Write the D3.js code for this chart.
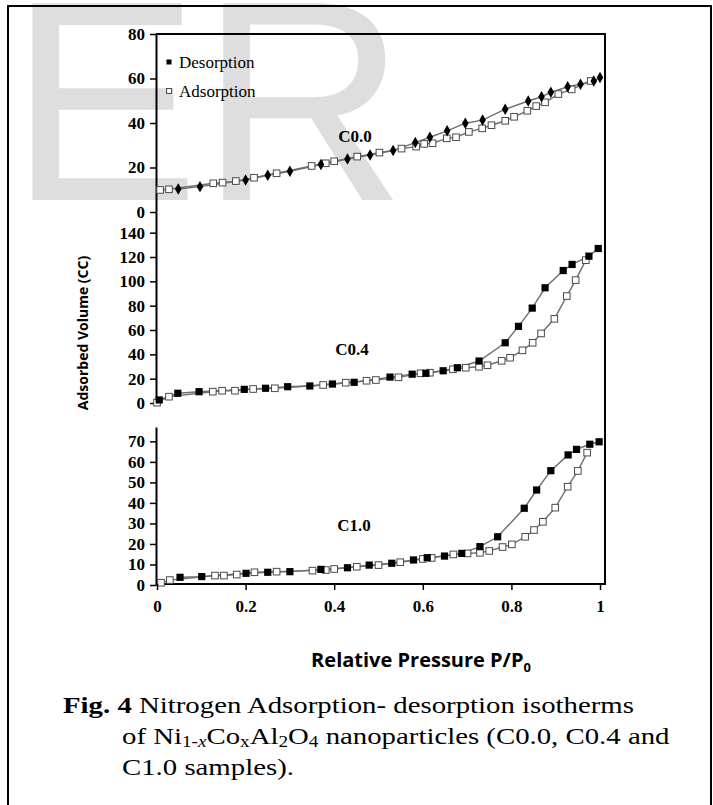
<!DOCTYPE html>
<html><head><meta charset="utf-8">
<script src="https://cdn.jsdelivr.net/npm/d3@7"></script>
<style>
html,body{margin:0;padding:0;background:#fff;}
svg{display:block;}
</style></head>
<body>
<script>
// ---------- DATA ----------
const samples = ["C0.0", "C0.4", "C1.0"];
const xTicks = [0, 0.2, 0.4, 0.6, 0.8, 1];
const yTicksC00 = [0, 20, 40, 60, 80];
const yTicksC04 = [0, 20, 40, 60, 80, 100, 120, 140];
const yTicksC10 = [0, 10, 20, 30, 40, 50, 60, 70];

// C0.0
const c00AdsX = [0.007,0.027,0.127,0.148,0.178,0.219,0.27,0.349,0.381,0.40,0.452,0.502,0.552,0.585,0.603,0.622,0.654,0.675,0.704,0.734,0.755,0.786,0.806,0.836,0.856,0.876,0.906,0.936,0.979];
const c00AdsY = [9.9,10.2,12.9,13.2,13.9,15.4,17.4,20.7,21.9,22.8,24.9,26.7,28.5,29.4,30.6,30.9,33.1,33.6,36.0,37.6,39.0,41.0,42.8,45.5,47.6,49.3,53.0,55.1,58.9];
const c00DesX = [0.048,0.097,0.2,0.25,0.3,0.37,0.43,0.481,0.533,0.583,0.616,0.655,0.696,0.735,0.786,0.838,0.868,0.889,0.927,0.956,0.986,1.0];
const c00DesY = [10.3,11.4,14.4,16.5,18.3,21.3,23.8,25.6,27.6,31.2,33.6,36.5,39.9,41.3,46.2,49.9,51.8,53.8,56.3,57.4,58.9,60.4];

// C0.4
const c04AdsX = [0.0,0.027,0.126,0.147,0.176,0.217,0.266,0.375,0.426,0.473,0.494,0.545,0.595,0.616,0.668,0.697,0.727,0.746,0.778,0.797,0.825,0.848,0.867,0.897,0.925,0.945,0.968];
const c04AdsY = [0.3,5.2,9.3,10.1,10.1,11.5,12.1,14.8,16.7,18.3,18.9,21.1,24.4,24.9,27.7,29.0,29.8,31.0,34.7,37.2,43.3,49.5,57.2,69.2,87.9,101.0,117.4];
const c04DesX = [0.005,0.047,0.095,0.197,0.245,0.295,0.345,0.396,0.445,0.526,0.576,0.607,0.646,0.678,0.727,0.786,0.816,0.847,0.876,0.917,0.937,0.975,0.996];
const c04DesY = [2.5,8.0,9.3,11.2,12.1,13.4,14.0,15.6,17.0,21.3,23.7,24.4,26.5,29.0,34.5,49.5,63.0,78.0,94.7,108.9,113.9,120.7,127.0];

// C1.0
const c10AdsX = [0.009,0.029,0.131,0.151,0.18,0.22,0.27,0.351,0.381,0.40,0.451,0.50,0.549,0.60,0.62,0.669,0.701,0.729,0.75,0.78,0.801,0.831,0.851,0.871,0.899,0.927,0.95,0.971];
const c10AdsY = [1.1,2.4,4.6,4.6,5.1,6.2,6.5,7.0,7.3,7.8,8.9,9.7,11.1,12.7,13.2,14.9,15.4,15.7,16.6,18.5,19.8,23.5,26.8,30.8,37.7,47.9,55.6,64.5];
const c10DesX = [0.052,0.101,0.201,0.25,0.3,0.37,0.43,0.479,0.53,0.579,0.61,0.649,0.688,0.729,0.769,0.829,0.857,0.889,0.928,0.947,0.977,0.998];
const c10DesY = [3.75,4.1,5.7,6.2,6.5,7.6,8.4,9.7,10.6,12.2,13.3,14.1,15.4,18.7,23.5,37.4,46.3,55.7,63.4,66.1,68.6,69.8];

const legendLabels = ["Desorption", "Adsorption"];

// ---------- DRAW ----------
const W = 713, H = 805;
const svg = d3.select("body").append("svg").attr("width", W).attr("height", H);

// watermark
svg.append("text").attr("x", 9).attr("y", 200)
  .attr("font-family", "Liberation Sans, Arial, sans-serif")
  .attr("font-size", 286).attr("fill", "#dedede").text("ER");

// outer frame
svg.append("rect").attr("x", 8).attr("y", 6).attr("width", 703).attr("height", 820)
  .attr("fill", "none").attr("stroke", "#000").attr("stroke-width", 2);

const x = d3.scaleLinear().domain([0, 1]).range([157, 600]);
const boxL = 156, boxR = 605, boxT = 34, boxB = 584;

const panels = [
  {name: samples[0], y: d3.scaleLinear().domain([0, 80]).range([212, 34]), ticks: yTicksC00,
   ads: [c00AdsX, c00AdsY], des: [c00DesX, c00DesY], diamond: true, label: [355, 136]},
  {name: samples[1], y: d3.scaleLinear().domain([0, 157]).range([403, 212]), ticks: yTicksC04,
   ads: [c04AdsX, c04AdsY], des: [c04DesX, c04DesY], diamond: false, label: [352, 349]},
  {name: samples[2], y: d3.scaleLinear().domain([0, 77]).range([585, 427]), ticks: yTicksC10,
   ads: [c10AdsX, c10AdsY], des: [c10DesX, c10DesY], diamond: false, label: [354, 525]}
];

const tickFont = "Liberation Serif, Times New Roman, serif";

// box lines (top, right, bottom)
svg.append("path")
  .attr("d", `M${boxL},${boxT}H${boxR}V${boxB}H${boxL}`)
  .attr("fill", "none").attr("stroke", "#000").attr("stroke-width", 2);

panels.forEach(p => {
  const ax = svg.append("g").attr("transform", `translate(${boxL},0)`)
    .call(d3.axisLeft(p.y).tickValues(p.ticks).tickSize(6).tickSizeOuter(0).tickPadding(5).tickFormat(d3.format("d")));
  ax.select(".domain").attr("stroke-width", 2);
  ax.selectAll(".tick line").attr("stroke-width", 1.5);
  ax.selectAll("text").attr("font-family", tickFont).attr("font-weight", "bold").attr("font-size", 17).attr("fill", "#000");

  const line = d3.line().x(d => x(d[0])).y(d => p.y(d[1]));
  const ads = p.ads[0].map((v, i) => [v, p.ads[1][i]]);
  const des = p.des[0].map((v, i) => [v, p.des[1][i]]);

  svg.append("path").datum(ads).attr("d", line).attr("fill", "none").attr("stroke", "#6e6e6e").attr("stroke-width", 1.4);
  svg.append("path").datum(des).attr("d", line).attr("fill", "none").attr("stroke", "#6e6e6e").attr("stroke-width", 1.4);

  svg.append("g").selectAll("rect").data(ads).join("rect")
    .attr("x", d => x(d[0]) - 3.3).attr("y", d => p.y(d[1]) - 3.3)
    .attr("width", 6.6).attr("height", 6.6)
    .attr("fill", "#fff").attr("stroke", "#4a4a4a").attr("stroke-width", 1);

  if (p.diamond) {
    svg.append("g").selectAll("path").data(des).join("path")
      .attr("transform", d => `translate(${x(d[0])},${p.y(d[1])})`)
      .attr("d", d3.symbol().type(d3.symbolDiamond).size(38))
      .attr("fill", "#000");
  } else {
    svg.append("g").selectAll("rect").data(des).join("rect")
      .attr("x", d => x(d[0]) - 3.6).attr("y", d => p.y(d[1]) - 3.6)
      .attr("width", 7.2).attr("height", 7.2).attr("fill", "#000");
  }

  svg.append("text").attr("x", p.label[0]).attr("y", p.label[1] + 6)
    .attr("text-anchor", "middle").attr("font-family", tickFont).attr("font-weight", "bold")
    .attr("font-size", 17).text(p.name);
});

// x axis
const xa = svg.append("g").attr("transform", `translate(0,${boxB})`)
  .call(d3.axisBottom(x).tickValues(xTicks).tickSize(6).tickSizeOuter(0).tickPadding(10)
    .tickFormat(d => d === 0 ? "0" : d === 1 ? "1" : d3.format(".1f")(d)));
xa.select(".domain").remove();
xa.selectAll(".tick line").attr("stroke-width", 1.5);
xa.selectAll("text").attr("font-family", tickFont).attr("font-weight", "bold").attr("font-size", 17).attr("fill", "#000");

// legend
const leg = svg.append("g");
legendLabels.forEach((lab, i) => {
  const ly = 62 + i * 29;
  leg.append("rect").attr("x", 166.5).attr("y", ly - 2.5).attr("width", 5).attr("height", 5)
    .attr("fill", i === 0 ? "#000" : "#fff").attr("stroke", i === 0 ? "none" : "#4a4a4a").attr("stroke-width", 1);
  leg.append("text").attr("x", 179).attr("y", ly + 6).attr("font-family", tickFont)
    .attr("font-size", 17).attr("fill", "#000").text(lab);
});

// axis titles
svg.append("text").attr("transform", "translate(88,333) rotate(-90)")
  .attr("text-anchor", "middle").attr("font-family", "Open Sans, sans-serif").attr("font-weight", "bold")
  .attr("font-size", 14).text("Adsorbed Volume (CC)");

const xt = svg.append("text").attr("x", 421).attr("y", 667)
  .attr("text-anchor", "middle").attr("font-family", "Open Sans, sans-serif").attr("font-weight", "bold")
  .attr("font-size", 20);
xt.append("tspan").text("Relative Pressure P/P");
xt.append("tspan").attr("dy", 5).attr("font-size", 13).text("0");

// caption (serif, horizontally widened to mimic the book face of the original)
const capFont = "Liberation Serif, Times New Roman, serif";
const capSize = 24, capStretch = 1.2;
const c1 = svg.append("text").attr("transform", `translate(63,713) scale(${capStretch},1)`)
  .attr("font-family", capFont).attr("font-size", capSize);
c1.append("tspan").attr("font-weight", "bold").text("Fig. 4");
c1.append("tspan").text(" Nitrogen Adsorption- desorption isotherms");

const c2 = svg.append("text").attr("transform", `translate(122,744) scale(${capStretch},1)`)
  .attr("font-family", capFont).attr("font-size", capSize);
c2.append("tspan").text("of Ni");
c2.append("tspan").attr("font-size", 16).attr("dy", 3).text("1-");
c2.append("tspan").attr("font-size", 16).attr("font-style", "italic").text("x");
c2.append("tspan").attr("dy", -3).text("Co");
c2.append("tspan").attr("font-size", 16).attr("dy", 3).text("x");
c2.append("tspan").attr("dy", -3).text("Al");
c2.append("tspan").attr("font-size", 16).attr("dy", 3).text("2");
c2.append("tspan").attr("dy", -3).text("O");
c2.append("tspan").attr("font-size", 16).attr("dy", 3).text("4");
c2.append("tspan").attr("dy", -3).text(" nanoparticles (C0.0, C0.4 and");

svg.append("text").attr("transform", `translate(122,775) scale(${capStretch},1)`)
  .attr("font-family", capFont).attr("font-size", capSize)
  .text("C1.0 samples).");
</script>
</body></html>
